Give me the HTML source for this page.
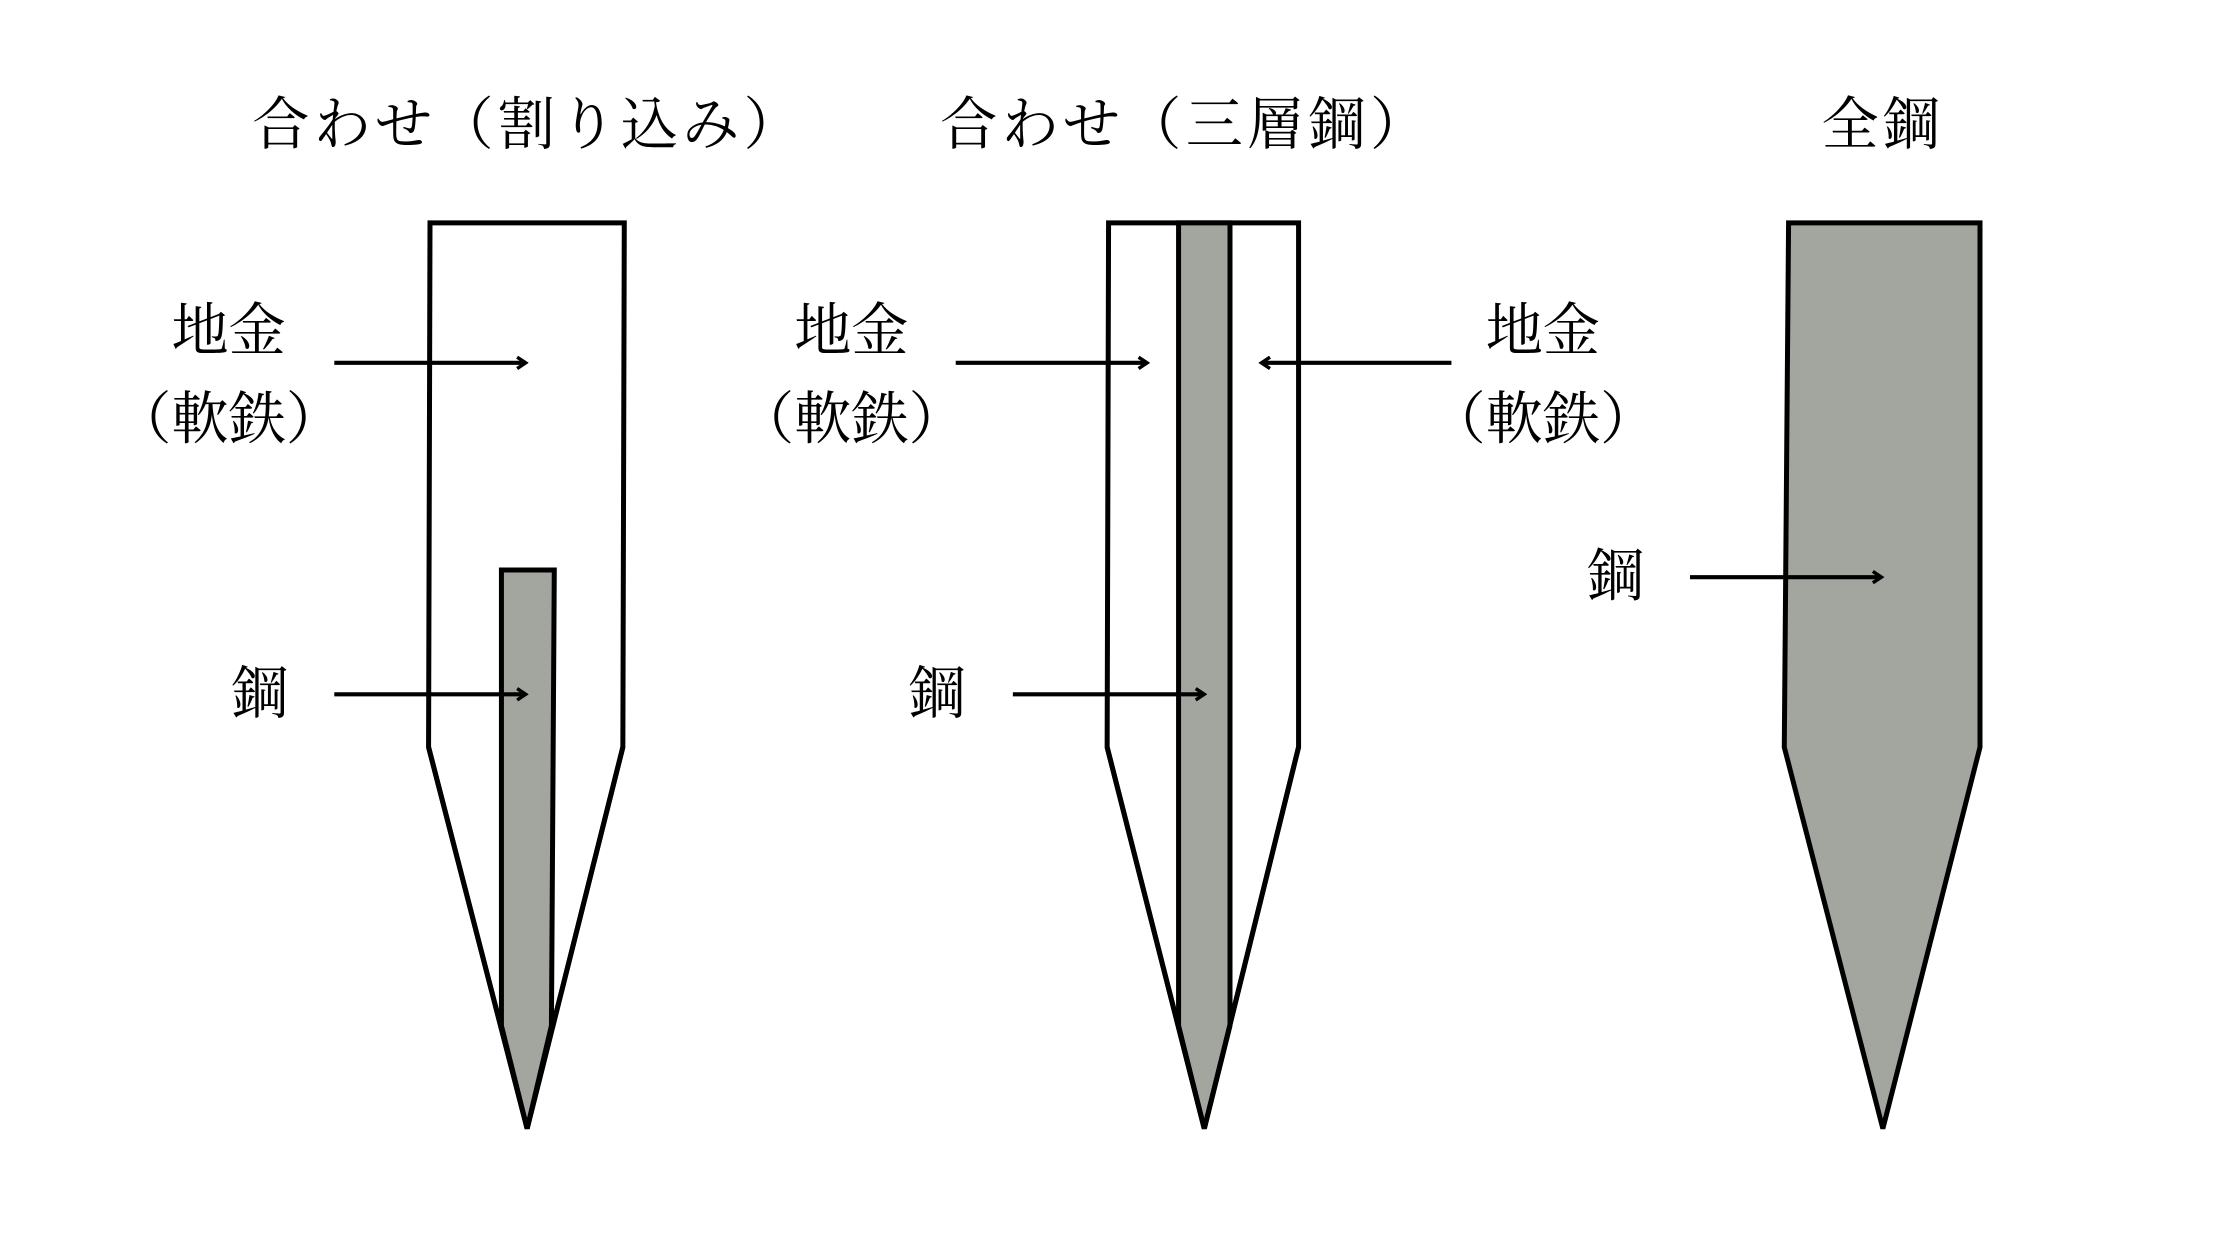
<!DOCTYPE html>
<html><head><meta charset="utf-8"><style>
html,body{margin:0;padding:0;background:#fff;}
svg{display:block;}
text{font-family:"Liberation Serif","Noto Serif CJK JP","Noto Serif CJK SC",serif;fill:#000;text-anchor:middle;dominant-baseline:central;}
</style></head><body>
<svg width="2240" height="1260" viewBox="0 0 1568 882" preserveAspectRatio="none" xmlns="http://www.w3.org/2000/svg">
<defs>
<marker id="ah" markerWidth="10" markerHeight="10" refX="8" refY="5" orient="auto" markerUnits="userSpaceOnUse">
<path d="M2,1 L8,5 L2,9" fill="none" stroke="#000" stroke-width="2.4"/>
</marker>
</defs>
<g font-size="40" letter-spacing="3">
<text x="370" y="88">合わせ（割り込み）</text>
<text x="830" y="88">合わせ（三層鋼）</text>
<text x="1318" y="88">全鋼</text>
</g>
<!-- blade 1 -->
<polygon points="301,156 437,156 436,523 369,790 300,523" fill="#fff" stroke="#000" stroke-width="3.5" stroke-linejoin="miter"/>
<polygon points="351,399 388,399 386,718 369,790 351,718" fill="#a2a69f" stroke="#000" stroke-width="3.5"/>
<line x1="300" y1="523" x2="369" y2="790" stroke="#000" stroke-width="3.5"/>
<line x1="436" y1="523" x2="369" y2="790" stroke="#000" stroke-width="3.5"/>
<!-- blade 2 -->
<polygon points="776,156 909,156 909,523 843,790 775,523" fill="#fff" stroke="#000" stroke-width="3.5"/>
<polygon points="825,156 861,156 861,718 843,790 825,718" fill="#a2a69f" stroke="#000" stroke-width="3.5"/>
<line x1="775" y1="523" x2="843" y2="790" stroke="#000" stroke-width="3.5"/>
<line x1="909" y1="523" x2="843" y2="790" stroke="#000" stroke-width="3.5"/>
<!-- blade 3 -->
<polygon points="1252,156 1386,156 1386,523 1318,790 1249,523" fill="#a2a69f" stroke="#000" stroke-width="3.5"/>
<!-- arrows -->
<g stroke="#000" stroke-width="2.9" marker-end="url(#ah)">
<line x1="234" y1="254" x2="368" y2="254"/>
<line x1="234" y1="486" x2="368" y2="486"/>
<line x1="669" y1="254" x2="803" y2="254"/>
<line x1="1016" y1="254" x2="883" y2="254"/>
<line x1="709" y1="486" x2="843" y2="486"/>
<line x1="1183" y1="404" x2="1317" y2="404"/>
</g>
<g font-size="40">
<text x="160" y="232">地金</text>
<text x="160" y="294">（軟鉄）</text>
<text x="182" y="486">鋼</text>
<text x="596" y="232">地金</text>
<text x="596" y="294">（軟鉄）</text>
<text x="656" y="486">鋼</text>
<text x="1080" y="232">地金</text>
<text x="1080" y="294">（軟鉄）</text>
<text x="1131" y="404">鋼</text>
</g>
</svg>
</body></html>
